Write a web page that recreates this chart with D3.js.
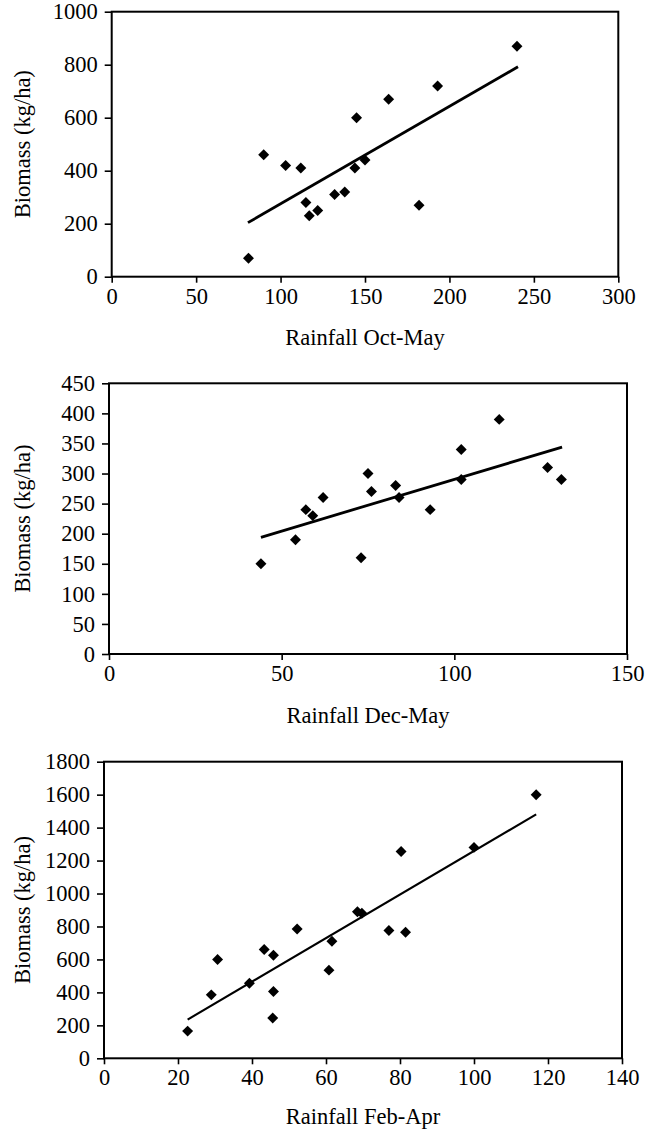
<!DOCTYPE html>
<html>
<head>
<meta charset="utf-8">
<script src="https://cdn.jsdelivr.net/npm/d3@7"></script>
<style>
  body { margin: 0; background: #fff; }
  svg text { font-family: "Liberation Serif", "Times New Roman", serif; fill: #000; }
</style>
</head>
<body>
<svg id="chart" width="648" height="1131"></svg>
<script>
// rainfall Oct-May panel
var octMayRain    = [81, 90, 103, 112, 115, 117, 122, 132, 138, 144, 145, 150, 164, 182, 193, 240];
var octMayBiomass = [70, 460, 420, 410, 280, 230, 250, 310, 320, 410, 600, 440, 670, 270, 720, 870];
var octMayTrendX  = [80.7, 240.6];
var octMayTrendY  = [204, 792];
var octMayXTicks  = [0, 50, 100, 150, 200, 250, 300];
var octMayYTicks  = [0, 200, 400, 600, 800, 1000];

// rainfall Dec-May panel
var decMayRain    = [44, 54, 57, 59, 62, 73, 75, 76, 83, 84, 93, 102, 102, 113, 127, 131];
var decMayBiomass = [150, 190, 240, 230, 260, 160, 300, 270, 280, 260, 240, 340, 290, 390, 310, 290];
var decMayTrendX  = [44, 131.2];
var decMayTrendY  = [194, 344];
var decMayXTicks  = [0, 50, 100, 150];
var decMayYTicks  = [0, 50, 100, 150, 200, 250, 300, 350, 400, 450];

// rainfall Feb-Apr panel
var febAprRain    = [22.6, 29, 30.7, 39.3, 43.3, 45.8, 45.8, 45.6, 52.2, 60.8, 61.6, 68.5, 69.7, 77, 80.3, 81.5, 100, 116.8];
var febAprBiomass = [165, 385, 600, 455, 660, 625, 405, 245, 785, 535, 710, 890, 880, 775, 1255, 765, 1280, 1600];
var febAprTrendX  = [22.6, 116.8];
var febAprTrendY  = [235, 1480];
var febAprXTicks  = [0, 20, 40, 60, 80, 100, 120, 140];
var febAprYTicks  = [0, 200, 400, 600, 800, 1000, 1200, 1400, 1600, 1800];

var svg = d3.select('#chart');
var fontSize = '22.5px';

var panels = [
  { left: 111.7, right: 618.3, top: 11.7, bottom: 276.7, xs: octMayRain, ys: octMayBiomass, titleGap: 61,
    tx: octMayTrendX, ty: octMayTrendY, xt: octMayXTicks, yt: octMayYTicks, title: 'Rainfall Oct-May', lw: 2.8 },
  { left: 109, right: 627, top: 383.3, bottom: 654, xs: decMayRain, ys: decMayBiomass, titleGap: 61,
    tx: decMayTrendX, ty: decMayTrendY, xt: decMayXTicks, yt: decMayYTicks, title: 'Rainfall Dec-May', lw: 2.8 },
  { left: 104, right: 622, top: 761.7, bottom: 1058.3, xs: febAprRain, ys: febAprBiomass, titleGap: 58,
    tx: febAprTrendX, ty: febAprTrendY, xt: febAprXTicks, yt: febAprYTicks, title: 'Rainfall Feb-Apr', lw: 2.1 }
];

var diamond = d3.symbol().type(d3.symbolSquare).size(60);

panels.forEach(function(p) {
  var xMax = p.xt[p.xt.length - 1];
  var yMax = p.yt[p.yt.length - 1];
  var x = d3.scaleLinear().domain([0, xMax]).range([p.left, p.right]);
  var y = d3.scaleLinear().domain([0, yMax]).range([p.bottom, p.top]);

  var g = svg.append('g');

  // plot area border
  g.append('rect')
    .attr('x', p.left).attr('y', p.top)
    .attr('width', p.right - p.left).attr('height', p.bottom - p.top)
    .attr('fill', 'none').attr('stroke', '#000').attr('stroke-width', 2);

  var xAxis = g.append('g')
    .attr('transform', `translate(0,${p.bottom})`)
    .call(d3.axisBottom(x).tickValues(p.xt).tickFormat(d3.format('d'))
      .tickSize(6).tickPadding(5).tickSizeOuter(0));
  var yAxis = g.append('g')
    .attr('transform', `translate(${p.left},0)`)
    .call(d3.axisLeft(y).tickValues(p.yt).tickFormat(d3.format('d'))
      .tickSize(7).tickPadding(7).tickSizeOuter(0));

  [xAxis, yAxis].forEach(function(a) {
    a.select('.domain').remove();
    a.selectAll('line').attr('stroke', '#000').attr('stroke-width', 1.6);
    a.selectAll('text').style('font-size', fontSize).attr('fill', '#000');
  });

  // axis titles
  g.append('text')
    .attr('x', (p.left + p.right) / 2)
    .attr('y', p.bottom + p.titleGap)
    .attr('text-anchor', 'middle')
    .attr('dominant-baseline', 'central')
    .style('font-size', fontSize)
    .text(p.title);

  g.append('text')
    .attr('transform', `translate(22,${(p.top + p.bottom) / 2}) rotate(-90)`)
    .attr('text-anchor', 'middle')
    .attr('dominant-baseline', 'central')
    .style('font-size', fontSize)
    .text('Biomass (kg/ha)');

  // trend line
  var trend = p.tx.map(function(v, i) { return [v, p.ty[i]]; });
  g.append('path')
    .datum(trend)
    .attr('d', d3.line().x(d => x(d[0])).y(d => y(d[1])))
    .attr('fill', 'none')
    .attr('stroke', '#000')
    .attr('stroke-width', p.lw);

  // points
  var pts = p.xs.map(function(v, i) { return { rain: v, bio: p.ys[i] }; });
  g.selectAll('path.pt')
    .data(pts)
    .enter()
    .append('path')
    .attr('class', 'pt')
    .attr('d', diamond)
    .attr('transform', d => `translate(${x(d.rain)},${y(d.bio)}) rotate(45)`)
    .attr('fill', '#000');
});
</script>
</body>
</html>
